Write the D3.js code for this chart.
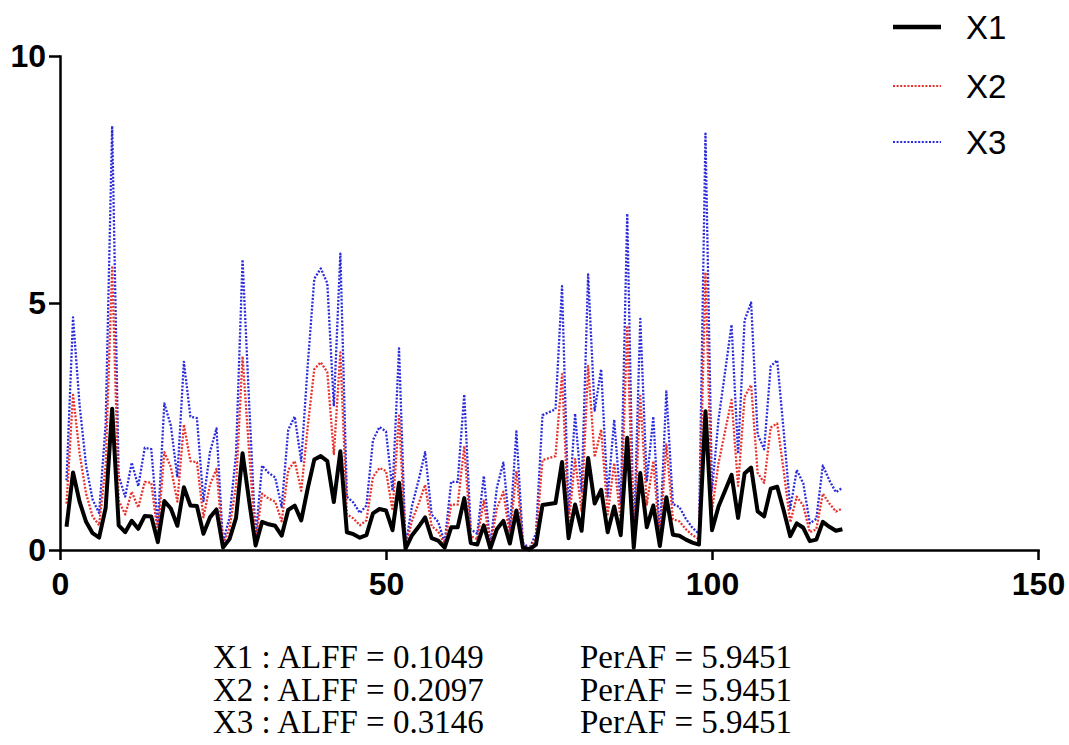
<!DOCTYPE html>
<html>
<head>
<meta charset="utf-8">
<script src="https://cdn.jsdelivr.net/npm/d3@7"></script>
<style>
  body { margin: 0; background: #fff; }
  svg { display: block; }
  .axis path, .axis line { stroke: #000; stroke-width: 2.5; }
  .axis text { font-family: "Liberation Sans", Arial, sans-serif; font-weight: bold; font-size: 32px; fill: #000; }
</style>
</head>
<body>
<script>
// time points 1..120
var timePoints = d3.range(1, 121);

var x1Values = [
  0.47, 1.57, 0.98, 0.57, 0.34, 0.25, 0.85, 2.86, 0.5, 0.36,
  0.59, 0.43, 0.69, 0.68, 0.16, 0.99, 0.84, 0.49, 1.27, 0.9,
  0.89, 0.33, 0.66, 0.82, 0.05, 0.22, 0.65, 1.96, 1.0, 0.09,
  0.57, 0.52, 0.49, 0.29, 0.81, 0.9, 0.6, 1.25, 1.83, 1.9,
  1.8, 0.97, 2.0, 0.36, 0.32, 0.25, 0.3, 0.74, 0.83, 0.8,
  0.4, 1.36, 0.03, 0.3, 0.47, 0.66, 0.24, 0.19, 0.05, 0.46,
  0.46, 1.05, 0.14, 0.11, 0.5, 0.03, 0.42, 0.59, 0.13, 0.8,
  0.05, 0.01, 0.11, 0.91, 0.93, 0.95, 1.78, 0.24, 0.92, 0.39,
  1.86, 0.94, 1.22, 0.36, 0.88, 0.3, 2.27, 0.05, 1.56, 0.46,
  0.9, 0.08, 1.07, 0.31, 0.29, 0.21, 0.15, 0.11, 2.81, 0.4,
  0.88, 1.2, 1.52, 0.65, 1.55, 1.67, 0.78, 0.68, 1.24, 1.28,
  0.8, 0.28, 0.54, 0.45, 0.18, 0.21, 0.57, 0.47, 0.39, 0.42
];

var x2Values = [
  0.94, 3.14, 1.96, 1.14, 0.68, 0.5, 1.7, 5.72, 1.0, 0.72,
  1.18, 0.86, 1.38, 1.36, 0.32, 1.98, 1.68, 0.98, 2.54, 1.8,
  1.78, 0.66, 1.32, 1.64, 0.1, 0.44, 1.3, 3.92, 2.0, 0.18,
  1.14, 1.04, 0.98, 0.58, 1.62, 1.8, 1.2, 2.5, 3.66, 3.8,
  3.6, 1.94, 4.0, 0.72, 0.64, 0.5, 0.6, 1.48, 1.66, 1.6,
  0.8, 2.72, 0.06, 0.6, 0.94, 1.32, 0.48, 0.38, 0.1, 0.92,
  0.92, 2.1, 0.28, 0.22, 1.0, 0.06, 0.84, 1.18, 0.26, 1.6,
  0.1, 0.02, 0.22, 1.82, 1.86, 1.9, 3.56, 0.48, 1.84, 0.78,
  3.72, 1.88, 2.44, 0.72, 1.76, 0.6, 4.54, 0.1, 3.12, 0.92,
  1.8, 0.16, 2.14, 0.62, 0.58, 0.42, 0.3, 0.22, 5.62, 0.8,
  1.76, 2.4, 3.04, 1.3, 3.1, 3.34, 1.56, 1.36, 2.48, 2.56,
  1.6, 0.56, 1.08, 0.9, 0.36, 0.42, 1.14, 0.94, 0.78, 0.84
];

var x3Values = [
  1.41, 4.71, 2.94, 1.71, 1.02, 0.75, 2.55, 8.58, 1.5, 1.08,
  1.77, 1.29, 2.07, 2.04, 0.48, 2.97, 2.52, 1.47, 3.81, 2.7,
  2.67, 0.99, 1.98, 2.46, 0.15, 0.66, 1.95, 5.88, 3.0, 0.27,
  1.71, 1.56, 1.47, 0.87, 2.43, 2.7, 1.8, 3.75, 5.49, 5.7,
  5.4, 2.91, 6.0, 1.08, 0.96, 0.75, 0.9, 2.22, 2.49, 2.4,
  1.2, 4.08, 0.09, 0.9, 1.41, 1.98, 0.72, 0.57, 0.15, 1.38,
  1.38, 3.15, 0.42, 0.33, 1.5, 0.09, 1.26, 1.77, 0.39, 2.4,
  0.15, 0.03, 0.33, 2.73, 2.79, 2.85, 5.34, 0.72, 2.76, 1.17,
  5.58, 2.82, 3.66, 1.08, 2.64, 0.9, 6.81, 0.15, 4.68, 1.38,
  2.7, 0.24, 3.21, 0.93, 0.87, 0.63, 0.45, 0.33, 8.43, 1.2,
  2.64, 3.6, 4.56, 1.95, 4.65, 5.01, 2.34, 2.04, 3.72, 3.84,
  2.4, 0.84, 1.62, 1.35, 0.54, 0.63, 1.71, 1.41, 1.17, 1.26
];

var seriesNames = ["X1", "X2", "X3"];
var xTicks = [0, 50, 100, 150];
var yTicks = [0, 5, 10];
var statLines = [
  ["X1 : ALFF = 0.1049", "PerAF = 5.9451"],
  ["X2 : ALFF = 0.2097", "PerAF = 5.9451"],
  ["X3 : ALFF = 0.3146", "PerAF = 5.9451"]
];

var svgWidth = 1069, svgHeight = 745;

var svg = d3.select("body").append("svg")
    .attr("width", svgWidth)
    .attr("height", svgHeight);

var xScale = d3.scaleLinear().domain([0, 150]).range([60, 1038]);
var yScale = d3.scaleLinear().domain([0, 10]).range([550, 56]);

// axes
var xAxis = d3.axisBottom(xScale).tickValues(xTicks).tickFormat(d3.format("d"))
    .tickSize(10).tickSizeOuter(0).tickPadding(12);
var yAxis = d3.axisLeft(yScale).tickValues(yTicks)
    .tickSize(11).tickSizeOuter(0).tickPadding(3);

svg.append("g").attr("class", "axis")
    .attr("transform", "translate(0," + yScale(0) + ")")
    .call(xAxis);
svg.append("g").attr("class", "axis")
    .attr("transform", "translate(" + xScale(0) + ",0)")
    .call(yAxis);
svg.selectAll(".axis .domain").attr("stroke-linecap", "square");

// line series
var styles = [
  { values: x1Values, color: "#000000", width: 4, dash: null },
  { values: x2Values, color: "#e8322c", width: 2.3, dash: "2,1.6" },
  { values: x3Values, color: "#2b2bdc", width: 2.3, dash: "2,1.6" }
];

var lineGen = d3.line()
    .x(function(d) { return xScale(d[0]); })
    .y(function(d) { return yScale(d[1]); });

// draw X3, X2 under X1
styles.slice().reverse().forEach(function(s) {
  svg.append("path")
      .datum(timePoints.map(function(t, i) { return [t, s.values[i]]; }))
      .attr("fill", "none")
      .attr("stroke", s.color)
      .attr("stroke-width", s.width)
      .attr("stroke-linejoin", "round")
      .attr("stroke-dasharray", s.dash)
      .attr("d", lineGen);
});

// legend
var legendY = [27, 86, 142];
var legend = svg.append("g");
seriesNames.forEach(function(name, i) {
  legend.append("line")
      .attr("x1", 893).attr("x2", 941)
      .attr("y1", legendY[i]).attr("y2", legendY[i])
      .attr("stroke", styles[i].color)
      .attr("stroke-width", i === 0 ? 4.5 : 2)
      .attr("stroke-dasharray", styles[i].dash);
  legend.append("text")
      .attr("x", 966).attr("y", legendY[i])
      .attr("dy", "0.36em")
      .attr("font-family", "Liberation Sans, Arial, sans-serif")
      .attr("font-size", 33)
      .text(name);
});

// stats underneath
var stats = svg.append("g")
    .attr("font-family", "Liberation Serif, Times New Roman, serif")
    .attr("font-size", 33)
    .attr("fill", "#000");
statLines.forEach(function(row, i) {
  stats.append("text").attr("x", 213).attr("y", 668 + i * 32.5).text(row[0]);
  stats.append("text").attr("x", 580).attr("y", 668 + i * 32.5).text(row[1]);
});
</script>
</body>
</html>
